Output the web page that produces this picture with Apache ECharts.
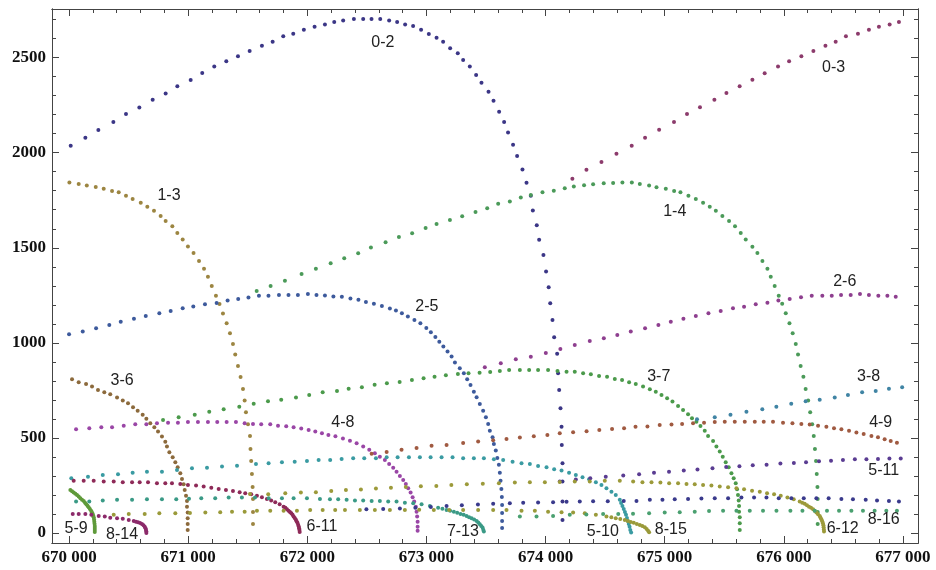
<!DOCTYPE html>
<html><head><meta charset="utf-8">
<script src="https://cdn.jsdelivr.net/npm/echarts@6/dist/echarts.min.js"></script>
<style>html,body{margin:0;padding:0;background:#fff}#c{width:936px;height:570px}</style>
</head><body><div id="c"></div>
<script>
// ---- axis ticks & labels ----
const xMajorTicks = [670000,671000,672000,673000,674000,675000,676000,677000];
const xTickLabels = ["670 000","671 000","672 000","673 000","674 000","675 000","676 000","677 000"];
const xMinorTicks = [670200,670400,670600,670800,671200,671400,671600,671800,672200,672400,672600,672800,673200,673400,673600,673800,674200,674400,674600,674800,675200,675400,675600,675800,676200,676400,676600,676800];
const yMajorTicks = [0,500,1000,1500,2000,2500];
const yTickLabels = ["0","500","1000","1500","2000","2500"];
const yMinorTicks = [100,200,300,400,600,700,800,900,1100,1200,1300,1400,1600,1700,1800,1900,2100,2200,2300,2400,2600,2700];

// ---- curve data [x, y] ----
const s02 = [[670014,2037],[670137,2079],[670246,2120],[670372,2162],[670478,2204],[670590,2238],[670702,2279],[670811,2312],[670909,2349],[671021,2383],[671118,2419],[671219,2453],[671320,2481],[671418,2507],[671516,2535],[671619,2563],[671709,2584],[671798,2612],[671882,2626],[671971,2647],[672061,2662],[672148,2675],[672226,2688],[672301,2695],[672391,2704],[672469,2704],[672539,2704],[672612,2704],[672687,2695],[672754,2688],[672821,2674],[672888,2667],[672955,2647],[673020,2625],[673085,2605],[673140,2584],[673199,2549],[673263,2523],[673308,2488],[673364,2453],[673417,2409],[673462,2368],[673521,2321],[673563,2274],[673610,2216],[673652,2162],[673685,2107],[673727,2042],[673761,1983],[673806,1912],[673840,1842],[673876,1774],[673893,1696],[673926,1619],[673946,1542],[673982,1462],[674004,1375],[674026,1292],[674039,1208],[674058,1120],[674072,1029],[674097,942],[674105,840],[674114,752],[674125,656],[674134,559],[674136,463],[674142,367],[674142,270],[674142,165],[674142,68]];
const s03 = [[674225,1863],[674343,1911],[674469,1951],[674595,1995],[674723,2037],[674835,2079],[674953,2121],[675078,2162],[675187,2204],[675296,2239],[675417,2279],[675518,2314],[675629,2349],[675736,2384],[675839,2418],[675951,2453],[676044,2481],[676147,2507],[676248,2535],[676349,2563],[676435,2584],[676521,2612],[676622,2626],[676714,2647],[676798,2662],[676888,2675],[676966,2688]];
const s13 = [[670003,1843],[670081,1836],[670149,1827],[670224,1820],[670291,1811],[670361,1799],[670417,1792],[670478,1773],[670534,1757],[670602,1737],[670657,1716],[670713,1695],[670769,1667],[670811,1641],[670867,1613],[670909,1578],[670954,1543],[670998,1507],[671045,1473],[671091,1431],[671133,1390],[671166,1348],[671198,1299],[671233,1248],[671263,1204],[671292,1154],[671323,1103],[671351,1050],[671376,994],[671395,938],[671418,878],[671440,820],[671460,757],[671474,696],[671485,635],[671502,572],[671519,510],[671523,442],[671529,379],[671535,310],[671541,242],[671544,179],[671544,110],[671544,47]];
const s14 = [[671575,1273],[671692,1299],[671812,1326],[671952,1362],[672072,1390],[672196,1419],[672310,1445],[672427,1471],[672534,1501],[672657,1529],[672769,1557],[672880,1576],[672993,1604],[673085,1625],[673197,1646],[673300,1666],[673412,1688],[673510,1708],[673602,1731],[673700,1743],[673792,1764],[673876,1778],[673974,1792],[674069,1800],[674161,1813],[674237,1822],[674323,1829],[674399,1834],[674488,1839],[674567,1841],[674645,1843],[674724,1843],[674791,1836],[674869,1827],[674931,1818],[675009,1811],[675079,1799],[675132,1792],[675199,1773],[675261,1757],[675322,1737],[675378,1716],[675429,1695],[675484,1667],[675540,1641],[675590,1613],[675638,1578],[675680,1543],[675736,1506],[675778,1473],[675820,1431],[675862,1390],[675890,1348],[675923,1299],[675957,1248],[675986,1205],[676016,1155],[676047,1103],[676074,1050],[676100,994],[676119,938],[676141,878],[676164,821],[676183,757],[676204,696],[676221,635],[676238,572],[676251,510],[676261,442],[676270,379],[676276,310],[676282,242],[676284,179],[676284,110],[676284,47]];
const s25 = [[670000,1045],[670115,1059],[670227,1077],[670338,1094],[670434,1111],[670545,1126],[670644,1141],[670758,1156],[670853,1168],[670954,1182],[671043,1191],[671141,1203],[671239,1210],[671331,1223],[671420,1231],[671506,1239],[671594,1247],[671674,1247],[671762,1252],[671842,1252],[671921,1252],[672005,1257],[672077,1252],[672148,1249],[672219,1244],[672290,1243],[672362,1233],[672429,1226],[672492,1215],[672559,1205],[672626,1194],[672693,1181],[672744,1170],[672794,1156],[672844,1138],[672899,1120],[672949,1103],[672999,1078],[673037,1055],[673075,1031],[673108,1006],[673142,980],[673177,954],[673211,928],[673239,896],[673280,866],[673314,840],[673342,808],[673370,778],[673398,743],[673421,714],[673448,678],[673476,643],[673499,609],[673518,573],[673532,538],[673555,503],[673566,468],[673582,433],[673595,394],[673608,358],[673616,316],[673622,274],[673629,231],[673633,189],[673635,147],[673635,105],[673635,63],[673635,26]];
const s26 = [[673490,872],[673624,893],[673750,913],[673876,927],[674002,947],[674124,968],[674245,989],[674371,1010],[674489,1024],[674602,1041],[674715,1059],[674835,1077],[674947,1094],[675051,1111],[675157,1126],[675261,1141],[675367,1156],[675470,1168],[675573,1182],[675666,1190],[675764,1203],[675862,1211],[675954,1222],[676049,1231],[676144,1240],[676234,1247],[676323,1247],[676402,1248],[676480,1252],[676561,1252],[676639,1257],[676714,1252],[676793,1248],[676869,1247],[676939,1243]];
const s36 = [[670025,808],[670081,793],[670143,784],[670193,770],[670243,752],[670296,740],[670346,730],[670403,712],[670451,696],[670495,682],[670537,661],[670576,643],[670618,621],[670649,600],[670682,577],[670716,556],[670747,533],[670780,507],[670808,480],[670822,454],[670842,424],[670870,398],[670892,372],[670912,346],[670934,314],[670948,284],[670962,256],[670971,226],[670982,195],[670990,168],[670990,138],[670996,107],[670996,77],[670996,47],[670996,16]];
const s37 = [[670789,594],[670920,609],[671055,621],[671177,638],[671298,651],[671429,664],[671550,679],[671670,693],[671781,700],[671905,712],[672016,726],[672129,740],[672249,747],[672347,759],[672458,766],[672565,780],[672668,787],[672775,794],[672878,805],[672976,814],[673068,822],[673163,830],[673264,836],[673353,840],[673446,843],[673535,847],[673616,852],[673694,857],[673784,857],[673862,857],[673937,857],[674021,857],[674100,852],[674176,848],[674245,848],[674315,840],[674380,835],[674449,826],[674516,821],[674581,810],[674642,805],[674701,793],[674757,784],[674818,770],[674875,756],[674925,742],[674973,726],[675020,709],[675065,691],[675112,668],[675154,647],[675196,624],[675229,603],[675266,585],[675300,563],[675336,537],[675364,510],[675406,484],[675434,454],[675462,428],[675487,401],[675512,372],[675537,346],[675560,314],[675579,288],[675596,261],[675607,230],[675615,200],[675621,170],[675624,142],[675624,112],[675630,83],[675630,51],[675630,16]];
const s38 = [[675271,598],[675420,609],[675552,621],[675686,638],[675819,651],[675937,664],[676062,679],[676183,693],[676301,700],[676427,712],[676538,726],[676657,740],[676771,747],[676882,759],[676993,766]];
const s48 = [[670059,545],[670170,551],[670271,556],[670361,556],[670459,564],[670556,572],[670649,572],[670738,577],[670831,580],[670914,580],[670998,584],[671082,584],[671166,584],[671244,584],[671323,584],[671401,584],[671474,577],[671544,573],[671613,572],[671689,572],[671754,564],[671823,561],[671885,556],[671949,549],[672011,542],[672067,533],[672123,524],[672177,515],[672236,508],[672299,497],[672358,485],[672414,472],[672469,454],[672520,437],[672567,419],[672609,401],[672651,384],[672687,363],[672721,343],[672749,322],[672777,300],[672805,279],[672827,258],[672847,235],[672867,212],[672884,188],[672897,165],[672911,138],[672917,112],[672922,86],[672926,59],[672926,33],[672926,12]];
const s49 = [[672540,416],[672666,426],[672791,437],[672917,447],[673043,458],[673169,463],[673308,473],[673434,481],[673560,487],[673672,494],[673784,502],[673901,508],[674015,515],[674119,524],[674231,530],[674344,535],[674451,542],[674558,547],[674659,551],[674755,558],[674855,560],[674958,568],[675057,570],[675146,573],[675238,577],[675330,580],[675420,584],[675504,585],[675588,585],[675672,585],[675756,585],[675831,585],[675909,585],[675993,580],[676072,577],[676147,573],[676217,570],[676287,564],[676357,559],[676421,551],[676483,545],[676547,538],[676609,528],[676670,521],[676735,510],[676790,503],[676846,493],[676897,484],[676949,475]];
const s59 = [[670011,226],[670025,219],[670039,212],[670053,206],[670067,200],[670081,191],[670095,183],[670109,175],[670123,168],[670134,159],[670145,151],[670155,143],[670165,135],[670175,126],[670185,117],[670192,109],[670199,100],[670203,91],[670207,83],[670210,71],[670212,59],[670214,48],[670216,37],[670216,26],[670216,16],[670216,5]];
const s510 = [[670019,288],[670159,296],[670283,305],[670411,309],[670534,317],[670654,322],[670780,322],[670906,331],[671032,340],[671158,343],[671284,349],[671410,354],[671569,363],[671675,367],[671787,372],[671894,375],[671997,379],[672095,384],[672192,384],[672288,389],[672385,393],[672478,393],[672576,393],[672666,398],[672758,398],[672853,398],[672945,398],[673035,398],[673127,398],[673219,398],[673308,393],[673398,393],[673482,393],[673566,388],[673644,384],[673723,375],[673798,367],[673868,363],[673937,352],[674008,346],[674072,335],[674134,328],[674197,317],[674254,305],[674310,293],[674365,282],[674422,267],[674469,252],[674511,235],[674553,217],[674589,200],[674623,174],[674634,158],[674645,142],[674656,126],[674666,110],[674675,95],[674683,79],[674690,63],[674698,47],[674705,32],[674711,16],[674718,2]];
const s511 = [[674119,271],[674254,281],[674375,288],[674505,295],[674652,302],[674785,309],[674910,317],[675036,322],[675160,329],[675275,333],[675401,340],[675516,347],[675627,351],[675739,356],[675855,359],[675971,365],[676084,368],[676186,372],[676295,377],[676396,380],[676496,384],[676596,388],[676693,388],[676790,389],[676886,391],[676981,391]];
const s611 = [[670039,274],[670123,274],[670207,274],[670291,270],[670375,270],[670451,267],[670529,267],[670593,267],[670663,267],[670738,261],[670808,261],[670864,261],[670934,258],[670998,252],[671066,249],[671130,244],[671194,238],[671256,231],[671317,226],[671376,221],[671432,214],[671479,209],[671529,204],[671577,196],[671619,188],[671661,179],[671697,170],[671731,161],[671768,151],[671801,138],[671816,132],[671829,124],[671842,117],[671854,110],[671866,103],[671876,95],[671885,87],[671894,79],[671903,70],[671910,62],[671917,53],[671923,43],[671928,34],[671931,24],[671934,15],[671936,5]];
const s612 = [[671519,205],[671672,203],[671815,209],[671946,213],[672072,214],[672201,221],[672324,226],[672450,229],[672576,234],[672702,237],[672827,241],[672953,246],[673083,247],[673209,252],[673339,256],[673473,259],[673608,261],[673742,265],[673868,267],[673994,267],[674119,268],[674245,270],[674371,271],[674497,274],[674623,275],[674735,271],[674813,267],[674889,267],[674964,265],[675037,261],[675112,261],[675183,258],[675252,256],[675322,252],[675392,249],[675462,244],[675532,240],[675602,235],[675666,230],[675733,222],[675798,217],[675859,209],[675918,204],[675974,195],[676030,186],[676083,177],[676133,165],[676154,159],[676175,153],[676194,146],[676211,138],[676228,132],[676245,125],[676259,116],[676273,107],[676287,98],[676301,89],[676307,81],[676315,72],[676322,62],[676328,51],[676332,41],[676334,30],[676336,18],[676337,7]];
const s713 = [[670059,165],[670170,165],[670283,170],[670403,174],[670529,174],[670654,177],[670780,177],[670900,177],[671007,180],[671110,183],[671227,183],[671340,186],[671451,186],[671561,186],[671676,183],[671787,183],[671885,183],[671997,183],[672106,179],[672190,177],[672259,177],[672330,174],[672400,170],[672469,170],[672540,168],[672609,168],[672679,165],[672749,165],[672819,159],[672889,156],[672959,151],[673029,142],[673098,133],[673134,127],[673169,121],[673199,117],[673230,112],[673258,106],[673286,100],[673312,95],[673337,89],[673358,83],[673379,77],[673400,70],[673421,63],[673435,55],[673448,46],[673460,37],[673471,28],[673477,17],[673482,7]];
const s714 = [[672496,124],[672637,126],[672777,129],[672907,133],[673037,137],[673169,142],[673297,146],[673432,149],[673560,153],[673700,156],[673812,159],[673937,160],[674063,162],[674176,164],[674287,165],[674399,166],[674522,167],[674656,168],[674763,168],[674875,174],[674981,174],[675084,177],[675196,179],[675308,181],[675420,183],[675532,183],[675644,186],[675750,186],[675854,186],[675957,183],[676063,183],[676167,183],[676273,183],[676376,183],[676483,179],[676580,177],[676687,174],[676782,170],[676882,168],[676966,165]];
const s814 = [[670031,100],[670081,100],[670137,100],[670187,95],[670249,89],[670300,86],[670346,80],[670403,77],[670451,74],[670501,68],[670543,63],[670562,59],[670579,56],[670596,52],[670612,47],[670625,41],[670635,33],[670642,25],[670646,16],[670649,7],[670649,0]];
const s815 = [[670375,95],[670501,100],[670635,100],[670758,104],[670892,104],[671015,105],[671144,107],[671269,109],[671368,112],[671474,112],[671577,116],[671689,116],[671801,117],[671913,117],[672024,121],[672129,121],[672234,121],[672316,121],[672441,121],[672567,121],[672693,121],[672819,121],[672939,122],[673062,121],[673191,121],[673308,121],[673434,121],[673560,121],[673672,121],[673798,117],[673910,116],[674021,112],[674134,109],[674231,107],[674329,104],[674422,95],[674511,86],[674552,82],[674589,77],[674627,73],[674665,68],[674690,63],[674715,58],[674740,53],[674766,47],[674791,42],[674812,36],[674833,30],[674848,21],[674860,12],[674869,3]];
const s816 = [[673784,87],[673924,87],[674063,89],[674203,95],[674342,97],[674483,100],[674610,100],[674734,101],[674869,104],[675000,107],[675126,109],[675252,112],[675372,115],[675490,116],[675602,117],[675714,117],[675825,117],[675938,117],[676055,117],[676156,117],[676259,117],[676362,117],[676463,117],[676567,117],[676664,117],[676762,117],[676860,117],[676949,117]];

// ---- curve labels (text + anchor in data units) ----
const curveLabels = ["0-2","0-3","1-3","1-4","2-5","2-6","3-6","3-7","3-8","4-8","4-9","5-11","8-16","6-12","8-15","5-10","7-13","6-11","8-14","5-9"];
const labelX = [672634,676418,670839,675084,673004,676511,670445,674950,676712,672299,676813,676838,676838,676494,675051,674480,673306,672123,670445,670059];
const labelY = [2577,2446,1773,1688,1189,1320,800,821,821,579,579,326,68,21,16,5,5,32,-11,21];

const curves = [
  ["0-2", s02, "#3b3686"], ["0-3", s03, "#8c3b6c"], ["1-3", s13, "#9c8541"], ["1-4", s14, "#4b9a59"],
  ["2-5", s25, "#3d5a9c"], ["2-6", s26, "#8e3f8f"], ["3-6", s36, "#8c6a3c"], ["3-7", s37, "#4b9a4b"],
  ["3-8", s38, "#4084a4"], ["4-8", s48, "#9a46a6"], ["4-9", s49, "#a05a41"], ["5-9", s59, "#5f9a3a"],
  ["5-10", s510, "#3a9ba2"], ["5-11", s511, "#5a3c92"], ["6-11", s611, "#8e2a58"], ["6-12", s612, "#9c9a3a"],
  ["7-13", s713, "#3a9a86"], ["7-14", s714, "#3a3a8c"], ["8-14", s814, "#8c2a6a"], ["8-15", s815, "#9a9a3a"],
  ["8-16", s816, "#4aa070"]
];

const X_MIN = 669857, X_MAX = 677126, Y_MIN = -53, Y_MAX = 2756;
const frameColor = '#444';
const tickFont = {color:'#111', fontFamily:'Liberation Serif', fontWeight:'bold', fontSize:17};

function xAx(pos, ticks, len, labels) {
  return {
    type:'value', position:pos, min:X_MIN, max:X_MAX,
    axisLine:{show:true, onZero:false, lineStyle:{color:frameColor, width:1}},
    axisTick:{show:true, inside:true, length:len, customValues:ticks, lineStyle:{color:frameColor, width:1}},
    axisLabel: labels ? Object.assign({show:true, customValues:ticks, margin:6,
      formatter:(v)=>xTickLabels[xMajorTicks.indexOf(v)]}, tickFont) : {show:false, customValues:ticks},
    splitLine:{show:false}
  };
}
function yAx(pos, ticks, len, labels) {
  return {
    type:'value', position:pos, min:Y_MIN, max:Y_MAX,
    axisLine:{show:true, onZero:false, lineStyle:{color:frameColor, width:1}},
    axisTick:{show:true, inside:true, length:len, customValues:ticks, lineStyle:{color:frameColor, width:1}},
    axisLabel: labels ? Object.assign({show:true, customValues:ticks, margin:6,
      formatter:(v)=>yTickLabels[yMajorTicks.indexOf(v)]}, tickFont) : {show:false, customValues:ticks},
    splitLine:{show:false}
  };
}

const series = curves.map(([name, data, color]) => ({
  name, type:'scatter', xAxisIndex:0, yAxisIndex:0, data,
  symbol:'circle', symbolSize:4, itemStyle:{color, opacity:1}, silent:true
}));
series.push({
  name:'labels', type:'scatter', xAxisIndex:0, yAxisIndex:0, silent:true,
  data: curveLabels.map((t,i)=>({name:t, value:[labelX[i], labelY[i]]})),
  symbolSize:1, itemStyle:{color:'rgba(0,0,0,0)'},
  label:{show:true, position:'inside', formatter:'{b}', color:'#222', fontSize:16, fontFamily:'Liberation Sans', opacity:1},
  z:10
});

const chart = echarts.init(document.getElementById('c'), null, {renderer:'canvas'});
chart.setOption({
  animation:false,
  backgroundColor:'#fff',
  grid:{left:52, right:18, top:9, bottom:27, containLabel:false},
  xAxis:[xAx('bottom', xMajorTicks, 7, true), xAx('bottom', xMinorTicks, 4, false),
         xAx('top', xMajorTicks, 7, false), xAx('top', xMinorTicks, 4, false)],
  yAxis:[yAx('left', yMajorTicks, 7, true), yAx('left', yMinorTicks, 4, false),
         yAx('right', yMajorTicks, 7, false), yAx('right', yMinorTicks, 4, false)],
  series
});
</script></body></html>
